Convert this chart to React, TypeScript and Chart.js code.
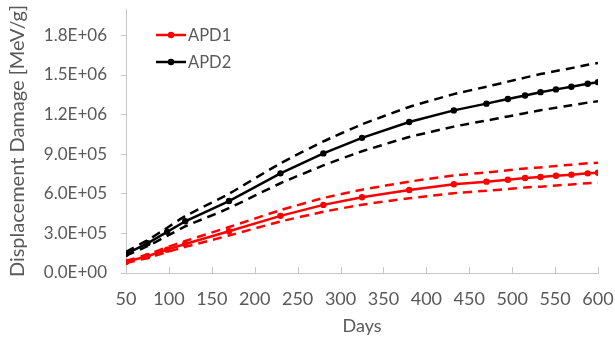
import React, { useEffect, useRef } from "react";
import { Chart, registerables } from "chart.js";

Chart.register(...registerables);

const days = [50, 75, 98, 119, 170, 230, 280, 325, 380, 432, 470, 495, 515, 533, 551, 569, 588, 600];
const apd1 = [84000, 127000, 177000, 220000, 316000, 433000, 516000, 574000, 629000, 672000, 692000, 707000, 720000, 727000, 737000, 745000, 755000, 760000];
const apd1Hi = [92000, 140000, 195000, 242000, 348000, 476000, 568000, 631000, 692000, 739000, 761000, 778000, 792000, 800000, 811000, 820000, 831000, 836000];
const apd1Lo = [76000, 114000, 159000, 198000, 284000, 390000, 464000, 517000, 566000, 605000, 623000, 636000, 648000, 654000, 663000, 671000, 680000, 684000];
const apd2 = [145000, 225000, 312000, 392000, 545000, 755000, 906000, 1024000, 1144000, 1232000, 1283000, 1318000, 1345000, 1370000, 1391000, 1411000, 1434000, 1446000];
const apd2Hi = [160000, 248000, 343000, 431000, 600000, 831000, 997000, 1126000, 1258000, 1355000, 1411000, 1450000, 1480000, 1507000, 1530000, 1552000, 1577000, 1591000];
const apd2Lo = [131000, 203000, 281000, 353000, 491000, 680000, 815000, 922000, 1030000, 1109000, 1155000, 1186000, 1211000, 1233000, 1252000, 1270000, 1291000, 1301000];

const seriesNames = ["APD1", "APD2"];
const seriesColors = ["#ff0000", "#000000"];
const xTitle = "Days";
const yTitle = "Displacement Damage [MeV/g]";

const X_MIN = 50, X_MAX = 600, X_STEP = 50;
const Y_MIN = 0, Y_MAX = 2000000;
const yTickValues = [0, 300000, 600000, 900000, 1200000, 1500000, 1800000];

const TEXT = "#595959";
const AXIS = "#c6c6c6";
const FONT = "Lato";

function sci(v: number): string {
  if (v === 0) return "0.0E+00";
  const e = Math.floor(Math.log10(Math.abs(v)) + 1e-9);
  const m = v / Math.pow(10, e);
  return m.toFixed(1) + "E" + (e < 0 ? "-" : "+") + String(Math.abs(e)).padStart(2, "0");
}

const pts = (ys: number[]) => days.map((d, i) => ({ x: d, y: ys[i] }));

const customPlugin = {
  id: "customDecor",
  afterDraw(chart: any) {
    const ctx = chart.ctx;
    const ca = chart.chartArea;
    const xs = chart.scales.x;
    ctx.save();
    ctx.strokeStyle = AXIS;
    ctx.lineWidth = 1;
    xs.ticks.forEach((t: any) => {
      const px = Math.round(xs.getPixelForValue(t.value)) + 0.5;
      ctx.beginPath();
      ctx.moveTo(px, ca.bottom);
      ctx.lineTo(px, ca.bottom - 6);
      ctx.stroke();
    });
    // legend
    ctx.font = `16.5px ${FONT}`;
    ctx.textBaseline = "middle";
    ctx.textAlign = "left";
    seriesNames.forEach((name, i) => {
      const y = ca.top + 26 + i * 27;
      const x0 = ca.left + 30;
      ctx.strokeStyle = seriesColors[i];
      ctx.lineWidth = 2.5;
      ctx.beginPath();
      ctx.moveTo(x0, y);
      ctx.lineTo(x0 + 30, y);
      ctx.stroke();
      ctx.fillStyle = seriesColors[i];
      ctx.beginPath();
      ctx.arc(x0 + 15, y, 3.2, 0, Math.PI * 2);
      ctx.fill();
      ctx.fillStyle = TEXT;
      ctx.fillText(name, x0 + 32, y + 1);
    });
    ctx.restore();
  },
};

export default function App() {
  const ref = useRef<HTMLCanvasElement | null>(null);
  useEffect(() => {
    document.body.style.margin = "0";
    const solid = (label: string, data: number[], color: string) => ({
      label,
      data: pts(data),
      borderColor: color,
      backgroundColor: color,
      borderWidth: 2.5,
      pointRadius: 3.2,
      pointBorderWidth: 0,
      pointBackgroundColor: color,
      tension: 0,
    });
    const dashed = (label: string, data: number[], color: string) => ({
      label,
      data: pts(data),
      borderColor: color,
      backgroundColor: color,
      borderWidth: 2.5,
      borderDash: [9, 6],
      pointRadius: 0,
      tension: 0.15,
    });
    const chart = new Chart(ref.current as HTMLCanvasElement, {
      type: "line",
      data: {
        datasets: [
          dashed("APD1 upper", apd1Hi, seriesColors[0]),
          dashed("APD1 lower", apd1Lo, seriesColors[0]),
          dashed("APD2 upper", apd2Hi, seriesColors[1]),
          dashed("APD2 lower", apd2Lo, seriesColors[1]),
          solid(seriesNames[0], apd1, seriesColors[0]),
          solid(seriesNames[1], apd2, seriesColors[1]),
        ],
      },
      options: {
        responsive: false,
        animation: false,
        layout: { padding: { top: 9, right: 17, left: 0, bottom: 0 } },
        plugins: { legend: { display: false }, tooltip: { enabled: false } },
        scales: {
          x: {
            type: "linear",
            min: X_MIN,
            max: X_MAX,
            afterFit: (scale: any) => {
              scale.height = 65;
              scale.paddingRight = 0;
            },
            ticks: { stepSize: X_STEP, color: TEXT, font: { family: FONT, size: 18 }, padding: 15, maxRotation: 0 },
            grid: { display: false, drawTicks: false },
            border: { color: AXIS, width: 1 },
            title: { display: true, text: xTitle, color: TEXT, font: { family: FONT, size: 18 }, padding: { top: 7, bottom: 1 } },
          },
          y: {
            type: "linear",
            min: Y_MIN,
            max: Y_MAX,
            afterBuildTicks: (scale: any) => {
              scale.ticks = yTickValues.map((v) => ({ value: v }));
            },
            afterFit: (scale: any) => {
              scale.width = 126;
              scale.paddingTop = 0;
              scale.paddingBottom = 0;
            },
            ticks: { color: TEXT, font: { family: FONT, size: 17 }, padding: 14, callback: (v: any) => sci(Number(v)) },
            grid: { drawOnChartArea: false, drawTicks: true, tickLength: 5, color: AXIS },
            border: { color: AXIS, width: 1 },
            title: { display: true, text: yTitle, color: TEXT, font: { family: FONT, size: 20 }, padding: { top: 6, bottom: 10 } },
          },
        },
      },
      plugins: [customPlugin],
    });
    return () => chart.destroy();
  }, []);
  return (
    <div style={{ position: "absolute", left: 0, top: 0, width: 615, height: 338, background: "#fff" }}>
      <canvas ref={ref} width={615} height={338} />
    </div>
  );
}
